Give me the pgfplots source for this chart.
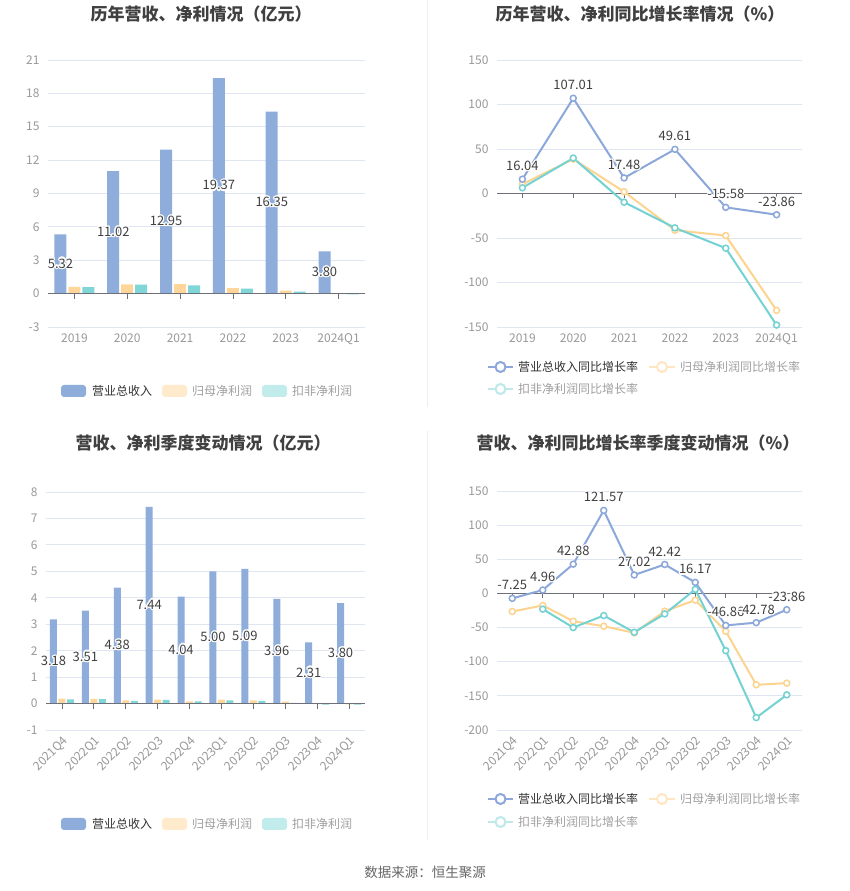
\documentclass[border=0pt]{standalone}
\usepackage{fontspec}
\setmainfont{Noto Sans CJK SC}
\usepackage{pgfplots}
\pgfplotsset{compat=1.18}
\usepackage{pgfplotstable}
\usepackage[copies]{contour}
\contourlength{1.2pt}
\contournumber{16}

\definecolor{barblue}{HTML}{8EADDB}
\definecolor{barorange}{HTML}{FFD699}
\definecolor{barteal}{HTML}{80D5D6}
\definecolor{legorange}{HTML}{FFEACB}
\definecolor{legteal}{HTML}{C2EBEB}
\definecolor{lineblue}{HTML}{8CA8DA}
\definecolor{lineorange}{HTML}{FCD48F}
\definecolor{lineteal}{HTML}{74D2D3}
\definecolor{legorangeL}{HTML}{FFE6C2}
\definecolor{legtealL}{HTML}{BDE9EA}
\definecolor{gridc}{HTML}{E0E6F1}
\definecolor{tickc}{HTML}{999999}
\definecolor{zeroc}{HTML}{6E7079}
\definecolor{lblc}{HTML}{404040}
\definecolor{titlec}{HTML}{404040}
\definecolor{legdark}{HTML}{333333}
\definecolor{leglight}{HTML}{A0A0A0}
\definecolor{sepc}{HTML}{EEEEEE}

\pgfplotstableread{
x rev np kf
0 5.32 0.60 0.58
1 11.02 0.84 0.81
2 12.95 0.85 0.74
3 19.37 0.50 0.45
4 16.35 0.27 0.18
5 3.80 -0.05 -0.07
}\annual

\pgfplotstableread{
x rev np kf
0 16.04 10.5 6.4
1 107.01 38.6 39.8
2 17.48 2.0 -9.8
3 49.61 -41.2 -38.6
4 -15.58 -47.3 -61.5
5 -23.86 -131.3 -147.8
}\annualg

\pgfplotstableread{
x rev np kf
0 3.18 0.19 0.16
1 3.51 0.18 0.17
2 4.38 0.12 0.10
3 7.44 0.15 0.14
4 4.04 0.08 0.08
5 5.00 0.15 0.12
6 5.09 0.12 0.10
7 3.96 0.07 0.03
8 2.31 -0.02 -0.04
9 3.80 -0.03 -0.04
}\quarter

\pgfplotstableread{
x rev np
0 -7.25 -26.5
1 4.96 -17.6
2 42.88 -40.7
3 121.57 -48.0
4 27.02 -57.8
5 42.42 -26.0
6 16.17 -9.8
7 -46.86 -55.4
8 -42.78 -133.8
9 -23.86 -131.4
}\quarterg

\pgfplotstableread{
x kf
1 -23.0
2 -50.0
3 -32.4
4 -56.9
5 -30.0
6 5.9
7 -83.8
8 -181.9
9 -148.5
}\quartergkf

\pgfplotsset{
  base/.style={
    scale only axis,
    axis line style={draw=none},
    major tick length=0pt,
    ymajorgrids,
    grid style={gridc, line width=0.8pt},
    tick label style={text=tickc, font=\fontsize{12}{14}\selectfont},
    yticklabel style={xshift=-5pt},
    /pgf/number format/assume math mode=true,
    clip=false,
  },
  barlbl/.style={draw=none, forget plot, nodes near coords={\contour{white}{\pgfplotspointmeta}},
    point meta=explicit symbolic,
    nodes near coords style={anchor=center, text=lblc, font=\fontsize{13}{15}\selectfont}},
  ln/.style={color=#1, line width=2pt, mark=*, mark size=3pt,
    mark options={fill=white, draw=#1, line width=1.5pt, solid}},
  lnlbl/.style={nodes near coords={\contour{white}{\pgfplotspointmeta}},
    point meta=explicit symbolic,
    nodes near coords style={anchor=south, yshift=3pt, text=lblc, font=\fontsize{13}{15}\selectfont}},
}

\begin{document}
\begin{tikzpicture}
\path[use as bounding box] (0pt,0pt) rectangle (850pt,891pt);
\fill[white] (0pt,0pt) rectangle (850pt,891pt);

% separators
\draw[sepc, line width=1pt] (427pt,891pt) -- (427pt,484pt);
\draw[sepc, line width=1pt] (427pt,460pt) -- (427pt,51pt);

% titles
\node[font=\fontsize{17}{20}\selectfont\bfseries, text=titlec] at (201pt,877pt) {历年营收、净利情况（亿元）};
\node[font=\fontsize{17}{20}\selectfont\bfseries, text=titlec] at (640pt,877pt) {历年营收、净利同比增长率情况（\%）};
\node[font=\fontsize{17}{20}\selectfont\bfseries, text=titlec] at (203pt,448pt) {营收、净利季度变动情况（亿元）};
\node[font=\fontsize{17}{20}\selectfont\bfseries, text=titlec] at (638pt,448pt) {营收、净利同比增长率季度变动情况（\%）};
\node[font=\fontsize{13.5}{16}\selectfont, text=black!60] at (425pt,19pt) {数据来源：恒生聚源};

% ---------- top-left ----------
\begin{axis}[base, at={(48pt,564pt)}, anchor=south west, width=317pt, height=267pt,
  xmin=-0.5, xmax=5.5, ymin=-3, ymax=21, ytick={-3,0,...,21},
  xtick={0,...,5}, xticklabels={2019,2020,2021,2022,2023,2024Q1},
  xticklabel style={yshift=-3pt}]
\addplot[ybar, bar width=12pt, bar shift=-14pt, fill=barblue, draw=none] table[x=x,y=rev] {\annual};
\addplot[ybar, bar width=12pt, bar shift=0pt, fill=barorange, draw=none] table[x=x,y=np] {\annual};
\addplot[ybar, bar width=12pt, bar shift=14pt, fill=barteal, draw=none] table[x=x,y=kf] {\annual};
\draw[zeroc, line width=1pt] (axis cs:-0.5,0) -- (axis cs:5.5,0);
\pgfplotsinvokeforeach{0,...,5}{\draw[zeroc, line width=0.8pt] (axis cs:#1,0) -- ++(0pt,-5pt);}
\addplot[barlbl, nodes near coords style={xshift=-14pt}] table[x=x, y expr=\thisrow{rev}/2, meta=rev] {\annual};
\end{axis}

% ---------- top-right ----------
\begin{axis}[base, at={(497pt,564pt)}, anchor=south west, width=305pt, height=267pt,
  xmin=-0.5, xmax=5.5, ymin=-150, ymax=150, ytick={-150,-100,...,150},
  xtick={0,...,5}, xticklabels={2019,2020,2021,2022,2023,2024Q1},
  xticklabel style={yshift=-3pt}]
\draw[zeroc, line width=1pt] (axis cs:-0.5,0) -- (axis cs:5.5,0);
\pgfplotsinvokeforeach{0,...,5}{\draw[zeroc, line width=0.8pt] (axis cs:#1,0) -- ++(0pt,-5pt);}
\addplot[ln=lineorange] table[x=x,y=np] {\annualg};
\addplot[ln=lineteal] table[x=x,y=kf] {\annualg};
\addplot[ln=lineblue, lnlbl] table[x=x,y=rev,meta=rev] {\annualg};
\end{axis}

% ---------- bottom-left ----------
\begin{axis}[base, at={(46pt,161pt)}, anchor=south west, width=319pt, height=238pt,
  xmin=-0.5, xmax=9.5, ymin=-1, ymax=8, ytick={-1,0,...,8},
  xtick={0,...,9}, xticklabels={2021Q4,2022Q1,2022Q2,2022Q3,2022Q4,2023Q1,2023Q2,2023Q3,2023Q4,2024Q1},
  xticklabel style={rotate=45, anchor=north east}]
\addplot[ybar, bar width=7pt, bar shift=-8.5pt, fill=barblue, draw=none] table[x=x,y=rev] {\quarter};
\addplot[ybar, bar width=7pt, bar shift=0pt, fill=barorange, draw=none] table[x=x,y=np] {\quarter};
\addplot[ybar, bar width=7pt, bar shift=8.5pt, fill=barteal, draw=none] table[x=x,y=kf] {\quarter};
\draw[zeroc, line width=1pt] (axis cs:-0.5,0) -- (axis cs:9.5,0);
\pgfplotsinvokeforeach{0,...,9}{\draw[zeroc, line width=0.8pt] (axis cs:#1,0) -- ++(0pt,-5pt);}
\addplot[barlbl, nodes near coords style={xshift=-8.5pt}] table[x=x, y expr=\thisrow{rev}/2, meta=rev] {\quarter};
\end{axis}

% ---------- bottom-right ----------
\begin{axis}[base, at={(497pt,161pt)}, anchor=south west, width=305pt, height=239pt,
  xmin=-0.5, xmax=9.5, ymin=-200, ymax=150, ytick={-200,-150,...,150},
  xtick={0,...,9}, xticklabels={2021Q4,2022Q1,2022Q2,2022Q3,2022Q4,2023Q1,2023Q2,2023Q3,2023Q4,2024Q1},
  xticklabel style={rotate=45, anchor=north east}]
\draw[zeroc, line width=1pt] (axis cs:-0.5,0) -- (axis cs:9.5,0);
\pgfplotsinvokeforeach{0,...,9}{\draw[zeroc, line width=0.8pt] (axis cs:#1,0) -- ++(0pt,-5pt);}
\addplot[ln=lineorange] table[x=x,y=np] {\quarterg};
\addplot[ln=lineteal] table[x=x,y=kf] {\quartergkf};
\addplot[ln=lineblue, lnlbl] table[x=x,y=rev,meta=rev] {\quarterg};
\end{axis}

% ---------- legends ----------
\begin{scope}[font=\fontsize{12}{14}\selectfont]
% top-left
\fill[barblue, rounded corners=3pt] (61pt,494pt) rectangle (86pt,506pt);
\node[anchor=west, inner sep=0pt, text=legdark] at (92pt,500pt) {营业总收入};
\fill[legorange, rounded corners=3pt] (162pt,494pt) rectangle (187pt,506pt);
\node[anchor=west, inner sep=0pt, text=leglight] at (192pt,500pt) {归母净利润};
\fill[legteal, rounded corners=3pt] (262pt,494pt) rectangle (287pt,506pt);
\node[anchor=west, inner sep=0pt, text=leglight] at (292pt,500pt) {扣非净利润};
% bottom-left
\fill[barblue, rounded corners=3pt] (61pt,61pt) rectangle (86pt,73pt);
\node[anchor=west, inner sep=0pt, text=legdark] at (92pt,67pt) {营业总收入};
\fill[legorange, rounded corners=3pt] (162pt,61pt) rectangle (187pt,73pt);
\node[anchor=west, inner sep=0pt, text=leglight] at (192pt,67pt) {归母净利润};
\fill[legteal, rounded corners=3pt] (262pt,61pt) rectangle (287pt,73pt);
\node[anchor=west, inner sep=0pt, text=leglight] at (292pt,67pt) {扣非净利润};
% top-right
\draw[lineblue, line width=2pt] (488pt,524pt) -- (513pt,524pt);
\draw[lineblue, line width=2pt, fill=white] (500.5pt,524pt) circle (5pt);
\node[anchor=west, inner sep=0pt, text=legdark] at (518pt,524pt) {营业总收入同比增长率};
\draw[legorangeL, line width=2pt] (649pt,524pt) -- (675pt,524pt);
\draw[legorangeL, line width=2pt, fill=white] (662pt,524pt) circle (5pt);
\node[anchor=west, inner sep=0pt, text=leglight] at (680pt,524pt) {归母净利润同比增长率};
\draw[legtealL, line width=2pt] (488pt,502pt) -- (513pt,502pt);
\draw[legtealL, line width=2pt, fill=white] (500.5pt,502pt) circle (5pt);
\node[anchor=west, inner sep=0pt, text=leglight] at (518pt,502pt) {扣非净利润同比增长率};
% bottom-right
\draw[lineblue, line width=2pt] (488pt,92pt) -- (513pt,92pt);
\draw[lineblue, line width=2pt, fill=white] (500.5pt,92pt) circle (5pt);
\node[anchor=west, inner sep=0pt, text=legdark] at (518pt,92pt) {营业总收入同比增长率};
\draw[legorangeL, line width=2pt] (649pt,92pt) -- (675pt,92pt);
\draw[legorangeL, line width=2pt, fill=white] (662pt,92pt) circle (5pt);
\node[anchor=west, inner sep=0pt, text=leglight] at (680pt,92pt) {归母净利润同比增长率};
\draw[legtealL, line width=2pt] (488pt,69pt) -- (513pt,69pt);
\draw[legtealL, line width=2pt, fill=white] (500.5pt,69pt) circle (5pt);
\node[anchor=west, inner sep=0pt, text=leglight] at (518pt,69pt) {扣非净利润同比增长率};
\end{scope}
\end{tikzpicture}
\end{document}
